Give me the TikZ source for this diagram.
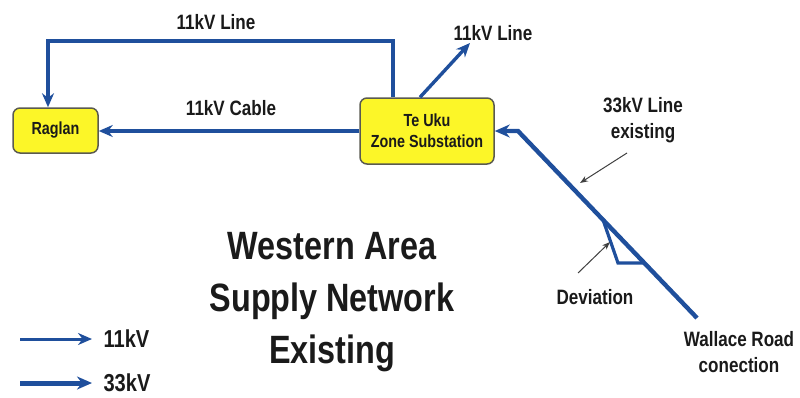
\documentclass[tikz,border=0pt]{standalone}
\usepackage{fontspec}
\setmainfont{Liberation Sans}[FakeStretch=0.82]
\usetikzlibrary{arrows.meta,calc}
\definecolor{netblue}{RGB}{31,79,156}
\definecolor{boxfill}{RGB}{252,246,40}
\definecolor{boxedge}{RGB}{90,90,80}
\definecolor{ink}{RGB}{26,26,26}
\tikzset{
  box/.style={draw=boxedge, line width=1.5pt, fill=boxfill, rounded corners=7pt,
    align=center, text=ink, font=\bfseries\fontsize{17.5}{21}\selectfont},
  lbl/.style={text=ink, align=center, font=\bfseries\fontsize{20.8}{26}\selectfont},
  legendtxt/.style={text=ink, anchor=west, font=\bfseries\fontsize{24.5}{28}\selectfont},
  titletxt/.style={text=ink, align=center, font=\bfseries\fontsize{39.5}{52}\selectfont},
  l11/.style={draw=netblue, line width=3.4pt, -{Stealth[length=14pt,width=12pt]}},
  l33/.style={draw=netblue, line width=4.4pt, -{Stealth[length=15pt,width=13pt]}},
  devline/.style={draw=netblue, line width=3.2pt, line join=miter},
  note/.style={draw=black!75, line width=1pt, -{Stealth[length=8pt,width=6pt]}}
}
\begin{document}
\begin{tikzpicture}[x=1pt,y=-1pt]
\useasboundingbox (0,0) rectangle (800,397);

% substations
\node[box, minimum width=85pt, minimum height=45pt] (raglan) at (55.5,130.5) {Raglan};
\node[box, minimum width=134pt, minimum height=66pt] (teuku) at (427,131) {Te Uku\\Zone Substation};

% 11kV feeders
\coordinate (ovtop) at (393,41);
\coordinate (ovleft) at (48,41);
\draw[l11, rounded corners=0pt] (teuku.north -| ovtop) |- (ovleft) -- (raglan.north -| ovleft);
\node[lbl] (ovlbl) at (216,22) {11kV Line};
\draw[l11] (teuku.west) -- (teuku.west -| raglan.east);
\node[lbl] (cablbl) at (231,108) {11kV Cable};
\coordinate (outtip) at (470,43);
\draw[l11] ([xshift=-7pt]teuku.north) -- (outtip);
\node[lbl] (outlbl) at (493,33) {11kV Line};

% 33kV supply
\coordinate (wallace) at (697,318);
\coordinate (bend) at (518,131);
\draw[l33, line join=miter] (wallace) -- (bend) -- (teuku.east |- bend);
\coordinate (devtop) at ($(wallace)!0.525!(bend)$);
\coordinate (devbot) at ($(wallace)!0.294!(bend)$);
\coordinate (devcorner) at (618,263);
\draw[devline] (devtop) -- (devcorner) -- (devbot);
\node[lbl] (wallbl) at (739,352) {Wallace Road\\conection};

% annotations
\node[lbl] (exlbl) at (643,120) {33kV Line\\existing};
\coordinate (exfrom) at (627,153);
\coordinate (exto) at (580,183);
\draw[note] (exfrom) -- (exto);
\node[lbl] (devlbl) at (595,297) {Deviation};
\coordinate (dvfrom) at (578,273);
\coordinate (dvto) at (610,242);
\draw[note] (dvfrom) -- (dvto);

% title
\node[titletxt] (title) at (332,302) {Western Area\\Supply Network\\Existing};

% legend
\node[legendtxt] (k11) at (100,339) {11kV};
\node[legendtxt] (k33) at (100,383) {33kV};
\coordinate (a11) at (20,339);
\coordinate (a33) at (20,383);
\draw[l11, line width=3pt] (a11) -- ([xshift=-8pt]k11.west);
\draw[l33, line width=5pt] (a33) -- ([xshift=-8pt]k33.west);
\end{tikzpicture}
\end{document}
